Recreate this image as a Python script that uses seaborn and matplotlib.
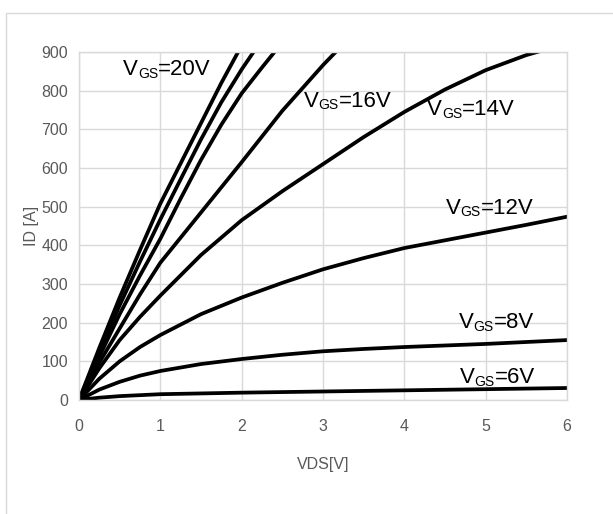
import matplotlib
matplotlib.use("Agg")
import matplotlib.pyplot as plt
from matplotlib.lines import Line2D
import seaborn as sns
import pandas as pd

# Output characteristics: drain current ID [A] vs drain-source voltage VDS [V]
vds_20 = [0, 0.25, 0.5, 0.75, 1, 1.25, 1.5, 1.75, 2]
id_20 = [0, 135, 265, 388, 508, 612, 716, 820, 917]

vds_19 = [0, 0.25, 0.5, 0.75, 1, 1.25, 1.5, 1.75, 2, 2.25]
id_19 = [0, 124, 245, 358, 467, 571, 674, 770, 855, 932]

vds_18 = [0, 0.25, 0.5, 0.75, 1, 1.25, 1.5, 1.75, 2, 2.25, 2.5]
id_18 = [0, 112, 222, 322, 417, 521, 621, 712, 793, 860, 925]

vds_16 = [0, 0.25, 0.5, 0.75, 1, 1.5, 2, 2.5, 3, 3.5]
id_16 = [0, 97, 185, 273, 355, 485, 615, 748, 866, 975]

vds_14 = [0, 0.25, 0.5, 0.75, 1, 1.5, 2, 2.5, 3, 3.5, 4, 4.5, 5, 5.5, 6]
id_14 = [0, 82, 155, 215, 270, 375, 465, 540, 610, 680, 745, 803, 853, 892, 922]

vds_12 = [0, 0.25, 0.5, 0.75, 1, 1.5, 2, 2.5, 3, 3.5, 4, 4.5, 5, 5.5, 6]
id_12 = [0, 55, 100, 137, 168, 222, 265, 303, 338, 367, 393, 413, 433, 453, 474]

vds_8 = [0, 0.25, 0.5, 0.75, 1, 1.5, 2, 2.5, 3, 3.5, 4, 4.5, 5, 5.5, 6]
id_8 = [0, 27, 47, 63, 75, 93, 106, 117, 126, 132, 137, 141, 145, 150, 155]

vds_6 = [0, 0.25, 0.5, 1, 2, 3, 4, 5, 6]
id_6 = [0, 6, 10, 15, 19, 22, 25, 28, 31]

x_ticks = [0, 1, 2, 3, 4, 5, 6]
y_ticks = [0, 100, 200, 300, 400, 500, 600, 700, 800, 900]

curves = {
    "20V": (vds_20, id_20),
    "19V": (vds_19, id_19),
    "18V": (vds_18, id_18),
    "16V": (vds_16, id_16),
    "14V": (vds_14, id_14),
    "12V": (vds_12, id_12),
    "8V": (vds_8, id_8),
    "6V": (vds_6, id_6),
}

frames = []
for vgs, (xs, ys) in curves.items():
    frames.append(pd.DataFrame({"VDS": xs, "ID": ys, "VGS": vgs}))
df = pd.concat(frames, ignore_index=True)

sns.set_theme(style="whitegrid")
plt.rcParams["font.family"] = ["Liberation Sans", "DejaVu Sans"]

grid_col = "#d9d9d9"
text_col = "#595959"

fig = plt.figure(figsize=(6.13, 5.14), dpi=100)
fig.patch.set_facecolor("white")
ax = fig.add_axes([79 / 613, 1 - 400 / 514, (567 - 79) / 613, (400 - 52) / 514])

sns.lineplot(data=df, x="VDS", y="ID", units="VGS", estimator=None,
             color="black", linewidth=2.7, sort=False, ax=ax, legend=False)

ax.set_xlim(0, 6)
ax.set_ylim(0, 900)
ax.set_xticks(x_ticks)
ax.set_yticks(y_ticks)
ax.grid(True, color=grid_col, linewidth=1.0)
for sp in ax.spines.values():
    sp.set_color(grid_col)
    sp.set_linewidth(1.0)

ax.tick_params(axis="both", length=0, colors=text_col, labelsize=11.5)
ax.tick_params(axis="x", pad=14)
ax.tick_params(axis="y", pad=8)

ax.set_xlabel("VDS[V]", color=text_col, fontsize=11.5)
ax.set_ylabel("ID [A]", color=text_col, fontsize=11.5)
ax.xaxis.set_label_coords(0.5, -0.164)
ax.yaxis.set_label_coords(-0.082, 0.5)

# Gate-voltage annotations: "V" with a small "GS" subscript, then "=..V"
label_pos = {
    "20V": (0.54, 840),
    "16V": (2.76, 758),
    "14V": (4.28, 736),
    "12V": (4.51, 482),
    "8V": (4.67, 185),
    "6V": (4.68, 43),
}
for vgs, (lx, ly) in label_pos.items():
    t_v = ax.text(lx, ly, "V", fontsize=16, color="black",
                  ha="left", va="baseline", zorder=5)
    t_gs = ax.annotate("GS", xy=(1, 0), xycoords=t_v, xytext=(0, -0.3),
                       textcoords="offset points", fontsize=10, color="black",
                       ha="left", va="bottom", zorder=5)
    ax.annotate("=" + vgs, xy=(1, 0), xycoords=(t_gs, t_v), fontsize=16,
                color="black", ha="left", va="bottom", zorder=5)

# Outer chart-area frame
fig.add_artist(Line2D([6 / 613, 6 / 613], [0, 1 - 13 / 514],
                      transform=fig.transFigure, color=grid_col, linewidth=1.0))
fig.add_artist(Line2D([6 / 613, 1], [1 - 13 / 514, 1 - 13 / 514],
                      transform=fig.transFigure, color=grid_col, linewidth=1.0))

fig.savefig("out.png", dpi=100, facecolor="white")
